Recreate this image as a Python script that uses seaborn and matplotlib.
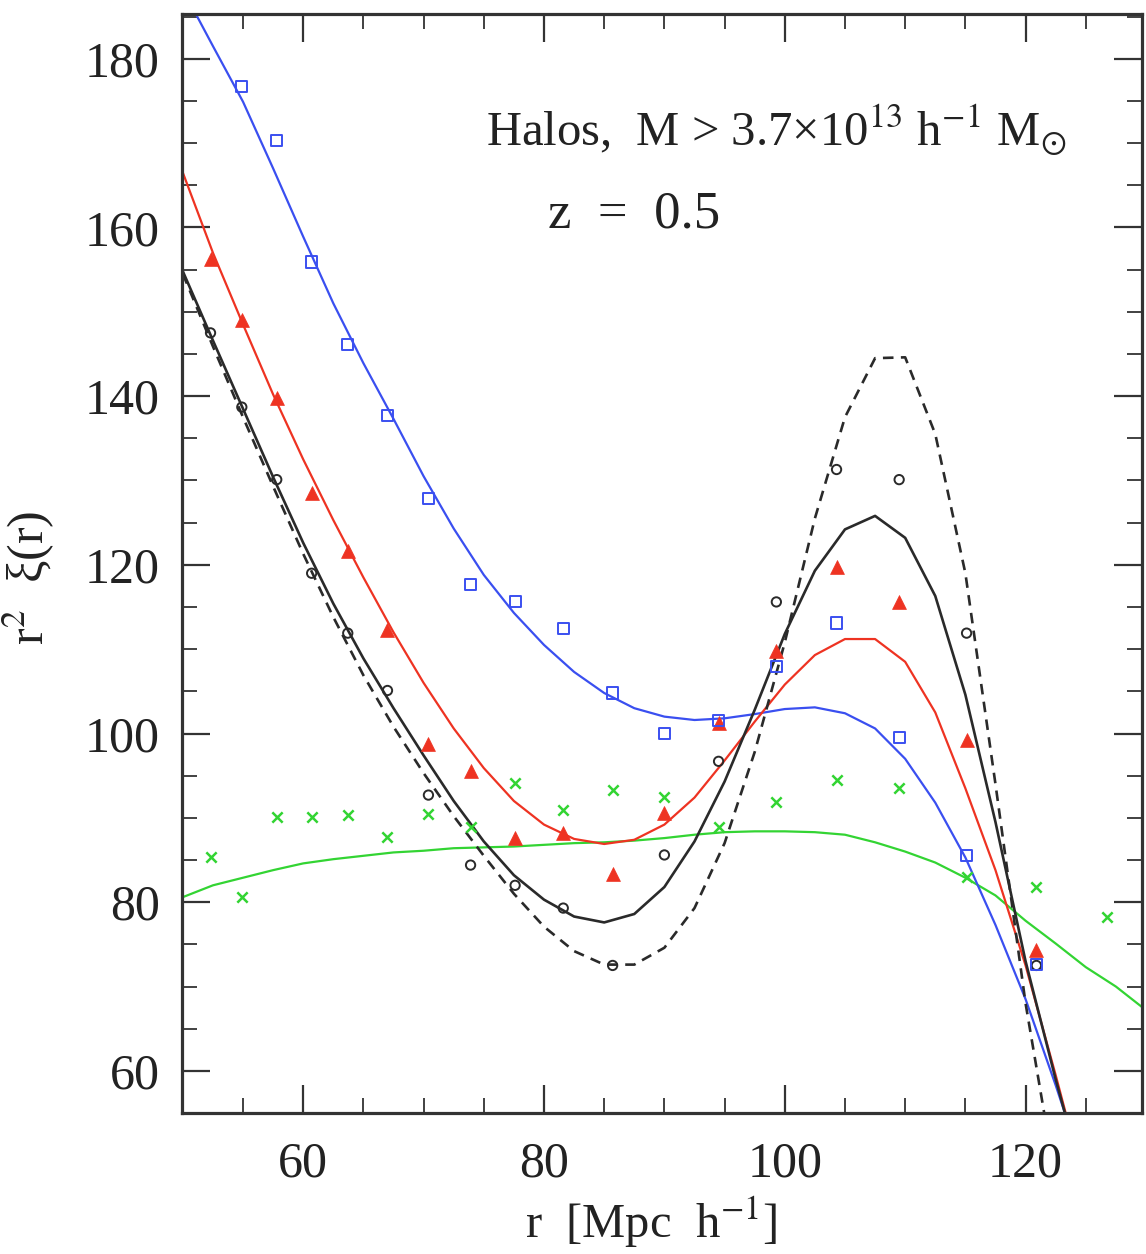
import numpy as np
import matplotlib
matplotlib.use("Agg")
import matplotlib.pyplot as plt
from matplotlib.ticker import MultipleLocator
import seaborn as sns

# Measured correlation function r^2 xi(r) at log-spaced separations
r_pts = [52.3, 54.9, 57.8, 60.7, 63.7, 67.0, 70.4, 73.9, 77.6, 81.6,
         85.7, 90.0, 94.5, 99.3, 104.3, 109.5, 115.1, 120.9, 126.8]
blue_pts = [np.nan, 176.7, 170.3, 155.9, 146.1, 137.7, 127.9, 117.7, 115.6, 112.4,
            104.8, 100.0, 101.5, 107.9, 113.1, 99.5, 85.5, 72.6, np.nan]
red_pts = [156.2, 149.0, 139.8, 128.5, 121.6, 112.3, 98.8, 95.5, 87.6, 88.2,
           83.4, 90.6, 101.2, 109.8, 119.7, 115.6, 99.2, 74.3, np.nan]
black_pts = [147.5, 138.7, 130.1, 119.0, 111.9, 105.1, 92.7, 84.4, 82.0, 79.3,
             72.5, 85.6, 96.7, 115.6, 131.3, 130.1, 111.9, 72.5, np.nan]
green_pts = [85.4, 80.6, 90.1, 90.1, 90.3, 87.7, 90.5, 88.9, 94.1, 90.9,
             93.3, 92.5, 88.9, 91.9, 94.5, 93.5, 83.0, 81.8, 78.2]

# Model curves
r_model = [50, 52.5, 55, 57.5, 60, 62.5, 65, 67.5, 70, 72.5, 75, 77.5, 80, 82.5,
           85, 87.5, 90, 92.5, 95, 97.5, 100, 102.5, 105, 107.5, 110, 112.5,
           115, 117.5, 120, 122.5, 125]
blue_fit = [188.2, 181.5, 174.9, 167.0, 158.9, 151.0, 143.9, 137.3, 130.5, 124.3,
            118.8, 114.3, 110.5, 107.3, 104.8, 103.0, 102.0, 101.6, 101.8, 102.3,
            102.9, 103.1, 102.4, 100.6, 97.0, 91.8, 85.3, 77.3, 68.5, 58.3, 47.5]
red_fit = [166.5, 157.0, 148.5, 140.2, 132.5, 125.3, 118.5, 112.0, 106.0, 100.6,
           95.9, 92.0, 89.2, 87.5, 86.9, 87.4, 89.2, 92.4, 96.8, 101.4,
           105.8, 109.3, 111.2, 111.2, 108.5, 102.5, 93.5, 83.8, 72.5, 59.5, 46.0]
black_fit = [154.8, 146.6, 138.5, 130.4, 122.6, 115.4, 108.9, 103.0, 97.4, 92.0,
             87.2, 83.2, 80.3, 78.3, 77.6, 78.6, 81.8, 87.2, 94.3, 102.8,
             111.8, 119.3, 124.2, 125.8, 123.2, 116.3, 104.6, 89.5, 73.0, 59.0, 46.0]
dashed_fit = [154.5, 145.9, 137.5, 129.3, 121.3, 113.8, 106.9, 100.8, 95.3, 90.2,
              85.5, 81.0, 77.1, 74.2, 72.6, 72.6, 74.6, 79.3, 87.0, 97.8,
              110.8, 125.5, 137.5, 144.5, 144.6, 135.5, 119.0, 94.0, 68.0, 47.0, 30.0]
r_green = r_model + [127.5, 130]
green_fit = [80.6, 82.0, 82.9, 83.8, 84.6, 85.1, 85.5, 85.9, 86.1, 86.4,
             86.5, 86.6, 86.8, 87.0, 87.1, 87.3, 87.6, 88.0, 88.3, 88.4,
             88.4, 88.3, 88.0, 87.1, 86.0, 84.7, 82.9, 80.8, 77.8, 75.1, 72.3, 70.0, 67.2]

x_ticks = [60, 80, 100, 120]
y_ticks = [60, 80, 100, 120, 140, 160, 180]

BLUE = "#3a4ff0"
RED = "#ee3322"
GREEN = "#33d433"
BLACK = "#2a2a2a"
AXC = "#333333"
TXT = "#222222"

sns.set_theme(style="ticks")
plt.rcParams["font.family"] = ["Liberation Serif", "DejaVu Serif"]
plt.rcParams["mathtext.fontset"] = "stix"

fig = plt.figure(figsize=(11.46, 12.54), dpi=100)
ax = fig.add_axes([0.1588, 0.1124, 0.8377, 0.8764])

# fitted curves
sns.lineplot(x=r_green, y=green_fit, ax=ax, color=GREEN, lw=1.6, sort=False, estimator=None)
sns.lineplot(x=r_model, y=blue_fit, ax=ax, color=BLUE, lw=1.6, sort=False, estimator=None)
sns.lineplot(x=r_model, y=red_fit, ax=ax, color=RED, lw=1.6, sort=False, estimator=None)
sns.lineplot(x=r_model, y=black_fit, ax=ax, color=BLACK, lw=1.9, sort=False, estimator=None)
sns.lineplot(x=r_model, y=dashed_fit, ax=ax, color=BLACK, lw=1.9, sort=False, estimator=None)
ax.lines[-1].set_dashes((4.0, 2.8))
for ln in ax.lines:
    ln.set_solid_joinstyle("round")

# measurements
sns.scatterplot(x=r_pts, y=green_pts, ax=ax, marker="x", color=GREEN, s=55, linewidth=1.8, zorder=5)
sns.scatterplot(x=r_pts, y=black_pts, ax=ax, marker="o", facecolor="none", edgecolor=BLACK,
                s=45, linewidth=1.4, zorder=5)
sns.scatterplot(x=r_pts, y=red_pts, ax=ax, marker="^", color=RED, edgecolor=RED, s=100,
                linewidth=0.5, zorder=6)
sns.scatterplot(x=r_pts, y=blue_pts, ax=ax, marker="s", facecolor="none", edgecolor=BLUE,
                s=64, linewidth=1.4, zorder=6)

ax.set_xlim(49.93, 129.67)
ax.set_ylim(55.0, 185.3)
ax.set_xticks(x_ticks)
ax.set_yticks(y_ticks)
ax.xaxis.set_minor_locator(MultipleLocator(5))
ax.yaxis.set_minor_locator(MultipleLocator(5))
ax.tick_params(which="both", direction="in", top=True, right=True, color=AXC)
ax.tick_params(which="major", length=20, width=1.6, labelsize=36, pad=16, labelcolor=TXT)
ax.tick_params(which="minor", length=11, width=1.3)
ax.tick_params(axis="x", which="major", pad=20)
for sp in ax.spines.values():
    sp.set_linewidth(2.3)
    sp.set_color(AXC)

ax.set_xlabel(r"r  [Mpc  h$^{-1}$]", fontsize=35, color=TXT)
ax.xaxis.set_label_coords(0.489, -0.074)
ax.set_ylabel(r"r$^2$  ξ(r)", fontsize=36, color=TXT)
ax.yaxis.set_label_coords(-0.130, 0.487)

ax.text(75.2, 169.6, r"Halos,  M > 3.7×10$^{13}$ h$^{-1}$ M$_{\odot}$", fontsize=35,
        color=TXT, va="baseline", ha="left")
ax.text(80.3, 160.0, r"z  =  0.5", fontsize=38, color=TXT, va="baseline", ha="left")

fig.savefig("out.png", dpi=100)
